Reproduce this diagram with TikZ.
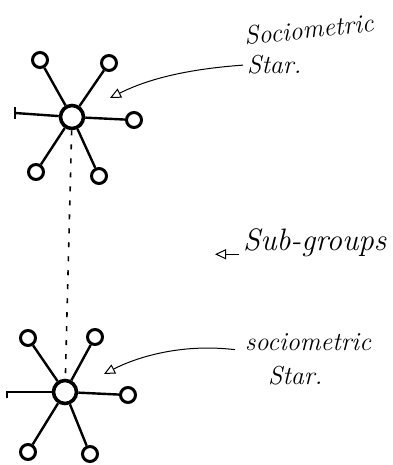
\documentclass[tikz,border=0pt]{standalone}
\usetikzlibrary{arrows.meta}
\begin{document}
\begin{tikzpicture}[x=1pt,y=-1pt,
  hub/.style={circle,draw,line width=3.6pt,minimum size=23pt,inner sep=0pt},
  sat/.style={circle,draw,line width=3pt,minimum size=15pt,inner sep=0pt},
  spoke/.style={line width=2.4pt},
  pointer/.style={line width=1pt,-{Triangle[open,length=11pt,width=10pt,line width=1pt]}},
  hand/.style={font=\fontsize{26}{28}\selectfont\itshape,inner sep=0pt,anchor=base west},
  big/.style={font=\fontsize{31}{33}\selectfont\itshape,inner sep=0pt,anchor=base west}]
\useasboundingbox (0,0) rectangle (392,465);
% top star
\node[hub] (h1) at (72,117) {};
\node[sat] (a1) at (40,60) {};
\node[sat] (b1) at (109,63) {};
\node[sat] (c1) at (134,120) {};
\node[sat] (d1) at (36,172) {};
\node[sat] (e1) at (99,176) {};
\coordinate (l1) at (15,113);
\draw[spoke] (h1) -- (a1);
\draw[spoke] (h1) -- (b1);
\draw[spoke] (h1) -- (c1);
\draw[spoke] (h1) -- (d1);
\draw[spoke] (h1) -- (e1);
\draw[spoke] (h1) -- (l1);
\draw[spoke] ([yshift=-6pt]l1) -- ([yshift=6pt]l1);
% bottom star
\node[hub] (h2) at (65,392) {};
\node[sat] (a2) at (28,338) {};
\node[sat] (b2) at (95,337) {};
\node[sat] (c2) at (128,395) {};
\node[sat] (d2) at (28,452) {};
\node[sat] (e2) at (90,454) {};
\coordinate (l2) at (7,392);
\draw[spoke] (h2) -- (a2);
\draw[spoke] (h2) -- (b2);
\draw[spoke] (h2) -- (c2);
\draw[spoke] (h2) -- (d2);
\draw[spoke] (h2) -- (e2);
\draw[spoke] (h2) -- (l2);
\draw[spoke] ([yshift=-6pt]l2) -- ([yshift=1pt]l2);
% dotted link
\draw[line width=1.6pt,dash pattern=on 5pt off 9pt] (h1) -- (h2);
% labels
\node[hand,rotate=6] (t1) at (245,45) {Sociometric};
\node[hand] (t2) at (247,74) {Star.};
\node[hand] (t3) at (245,350) {sociometric};
\node[hand] (t4) at (268,384) {Star.};
\node[big] (t5) at (243,250) {Sub-groups};
\coordinate (p1) at (110,98);
\coordinate (p2) at (104,374);
\draw[pointer] ([xshift=-4pt]t2.west) .. controls (175,70) and (140,83) .. (p1);
\draw[pointer] ([xshift=-10pt,yshift=-8pt]t3.west) .. controls (180,343) and (135,358) .. (p2);
\draw[pointer] ([xshift=-4pt,yshift=-12pt]t5.west) -- +(-24,0);
\end{tikzpicture}
\end{document}
